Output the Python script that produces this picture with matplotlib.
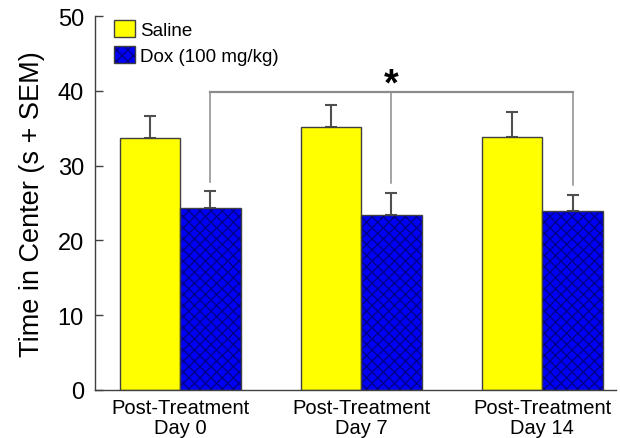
import numpy as np
import matplotlib
matplotlib.use("Agg")
import matplotlib.pyplot as plt
from matplotlib.patches import Patch
from matplotlib.legend_handler import HandlerTuple

plt.rcParams['font.family'] = ['Liberation Sans', 'DejaVu Sans']
plt.rcParams['hatch.linewidth'] = 1.0

# Data
groups = ["Post-Treatment\nDay 0", "Post-Treatment\nDay 7", "Post-Treatment\nDay 14"]
series_names = ["Saline", "Dox (100 mg/kg)"]
saline_mean = [33.7, 35.2, 33.9]
saline_sem = [3.0, 2.9, 3.3]
dox_mean = [24.3, 23.4, 23.9]
dox_sem = [2.3, 3.0, 2.2]
bracket_level = 39.9
significance = "*"

x = np.arange(len(groups))
w = 0.334

fig = plt.figure(figsize=(6.2, 4.39), dpi=100)
ax = fig.add_axes([0.1532, 0.110, 0.841, 0.8506])

edge = "#404040"
yellow = "#FFFF00"
blue = "#0000F5"
hatch_col = "#00008A"

ax.bar(x - w / 2, saline_mean, w, color=yellow, edgecolor=edge, linewidth=1.0, zorder=2)
ax.bar(x + w / 2, dox_mean, w, color=blue, edgecolor="none", linewidth=0, zorder=2)
ax.bar(x + w / 2, dox_mean, w, color="none", edgecolor=hatch_col, hatch="xxx", linewidth=0, zorder=3)
ax.bar(x + w / 2, dox_mean, w, color="none", edgecolor=edge, linewidth=1.0, zorder=4)

ekw = dict(fmt="none", ecolor="#505050", elinewidth=1.5, capsize=4.3, capthick=1.5, zorder=1)
ax.errorbar(x - w / 2, saline_mean, yerr=[np.zeros(3), saline_sem], **ekw)
ax.errorbar(x + w / 2, dox_mean, yerr=[np.zeros(3), dox_sem], **ekw)

# Significance bracket linking the Dox bars
dox_x = x + w / 2
tips = np.array(dox_mean) + np.array(dox_sem) + 1.25
ax.plot([dox_x[0], dox_x[-1]], [bracket_level, bracket_level], color="#8C8C8C", lw=1.6, zorder=1)
for xi, ti in zip(dox_x, tips):
    ax.plot([xi, xi], [ti, bracket_level], color="#8C8C8C", lw=1.1, zorder=1)
ax.text(dox_x[1], bracket_level - 1.5, significance, ha="center", va="bottom",
        fontsize=27, fontweight="bold")

ax.set_xlim(-0.470, 2.409)
ax.set_ylim(0, 50)
ax.set_yticks([0, 10, 20, 30, 40, 50])
ax.set_xticks(x)
ax.set_xticklabels(groups, fontsize=14.5, linespacing=1.05)
ax.tick_params(axis="x", length=0, pad=6)
ax.tick_params(axis="y", direction="in", length=6, width=1, labelsize=17, pad=8, color="#404040")
ax.set_ylabel("Time in Center (s + SEM)", fontsize=19.5, labelpad=9)

for s in ["top", "right"]:
    ax.spines[s].set_visible(False)
for s in ["left", "bottom"]:
    ax.spines[s].set_color("#404040")
    ax.spines[s].set_linewidth(1.0)

h_sal = Patch(facecolor=yellow, edgecolor=edge, linewidth=1.0)
h_dox = (Patch(facecolor=blue, edgecolor="none"),
         Patch(facecolor="none", edgecolor=hatch_col, hatch="xxx", linewidth=0),
         Patch(facecolor="none", edgecolor=edge, linewidth=1.0))
ax.legend([h_sal, h_dox], series_names, handler_map={tuple: HandlerTuple(ndivide=1, pad=0)},
          loc="upper left", bbox_to_anchor=(0.022, 1.01), frameon=False, fontsize=13.5,
          handlelength=1.1, handleheight=1.0, handletextpad=0.3, labelspacing=0.4,
          borderaxespad=0)

fig.savefig("out.png", dpi=100)
